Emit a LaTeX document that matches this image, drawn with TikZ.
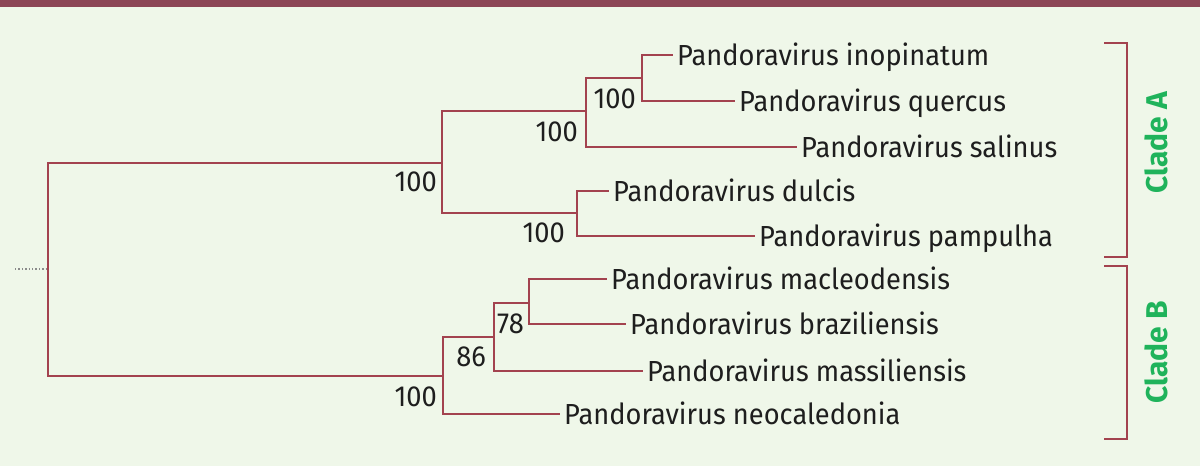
\documentclass[tikz,border=0pt]{standalone}
\usepackage{fontspec}
\setmainfont{Fira Sans}[FakeStretch=0.94]
\newfontfamily\cladefont{Fira Sans}
\definecolor{bgc}{HTML}{EFF7E9}
\definecolor{band}{HTML}{8C4656}
\definecolor{tree}{HTML}{A3434F}
\definecolor{cladegreen}{HTML}{1FB35B}
\definecolor{txt}{HTML}{1E1E1E}
\definecolor{stubgray}{HTML}{8A8A8A}
\tikzset{
  branch/.style={draw=tree, line width=1.8pt},
  leaf/.style={anchor=west, inner xsep=4pt, inner ysep=0pt, text height=20pt, text depth=0pt, font=\fontsize{29}{31}\selectfont, text=txt},
  support/.style={anchor=base east, inner sep=0pt, font=\fontsize{29}{31}\selectfont, text=txt},
  bracket/.style={draw=tree, line width=1.8pt},
  cladelabel/.style={rotate=90, inner sep=0pt, text=cladegreen, font=\cladefont\bfseries\fontsize{30}{32}\selectfont}
}
\begin{document}
\begin{tikzpicture}[x=1pt,y=-1pt]
\useasboundingbox (0,0) rectangle (1200,466);
\fill[bgc] (0,0) rectangle (1200,466);
\fill[band] (0,0) rectangle (1200,7);

% internal nodes
\coordinate (stub) at (15,269);
\coordinate (root) at (48,269);
\coordinate (nA) at (442,163);
\coordinate (nA1) at (586,111);
\coordinate (nA11) at (642,78);
\coordinate (nA2) at (577,213);
\coordinate (nB) at (443,376);
\coordinate (nB1) at (494,337);
\coordinate (nB11) at (529,303);

% leaves
\node[leaf] (inop) at (673,55) {Pandoravirus inopinatum};
\node[leaf] (querc) at (735,101) {Pandoravirus quercus};
\node[leaf] (salin) at (797,147) {Pandoravirus salinus};
\node[leaf] (dulc) at (609,191) {Pandoravirus dulcis};
\node[leaf] (pamp) at (755,236) {Pandoravirus pampulha};
\node[leaf] (macl) at (607,279) {Pandoravirus macleodensis};
\node[leaf] (braz) at (626,324) {Pandoravirus braziliensis};
\node[leaf] (mass) at (643,371) {Pandoravirus massiliensis};
\node[leaf] (neoc) at (560,414) {Pandoravirus neocaledonia};

% branches
\draw[dotted, draw=stubgray, line width=1.4pt] (stub) -- (root);
\draw[branch] (root) |- (nA);
\draw[branch] (root) |- (nB);
\draw[branch] (nA) |- (nA1);
\draw[branch] (nA) |- (nA2);
\draw[branch] (nA1) |- (nA11);
\draw[branch] (nA11) |- (inop.west);
\draw[branch] (nA11) |- (querc.west);
\draw[branch] (nA1) |- (salin.west);
\draw[branch] (nA2) |- (dulc.west);
\draw[branch] (nA2) |- (pamp.west);
\draw[branch] (nB) |- (nB1);
\draw[branch] (nB) |- (neoc.west);
\draw[branch] (nB1) |- (nB11);
\draw[branch] (nB1) |- (mass.west);
\draw[branch] (nB11) |- (macl.west);
\draw[branch] (nB11) |- (braz.west);

% support values
\node[support] (sA) at (437,191) {100};
\node[support] (sA1) at (578,141) {100};
\node[support] (sA11) at (636,108) {100};
\node[support] (sA2) at (565,242) {100};
\node[support] (sB) at (437,406) {100};
\node[support] (sB1) at (486,366) {86};
\node[support] (sB11) at (524,333) {78};

% brackets
\coordinate (bAt) at (1104,43);
\coordinate (bAb) at (1104,257);
\coordinate (bBt) at (1104,266);
\coordinate (bBb) at (1104,439);
\draw[bracket] (bAt) -- ++(23,0) |- (bAb);
\draw[bracket] (bBt) -- ++(23,0) |- (bBb);
\node[cladelabel] (cA) at (1156,142.5) {Clade A};
\node[cladelabel] (cB) at (1156,352.5) {Clade B};
\end{tikzpicture}
\end{document}
